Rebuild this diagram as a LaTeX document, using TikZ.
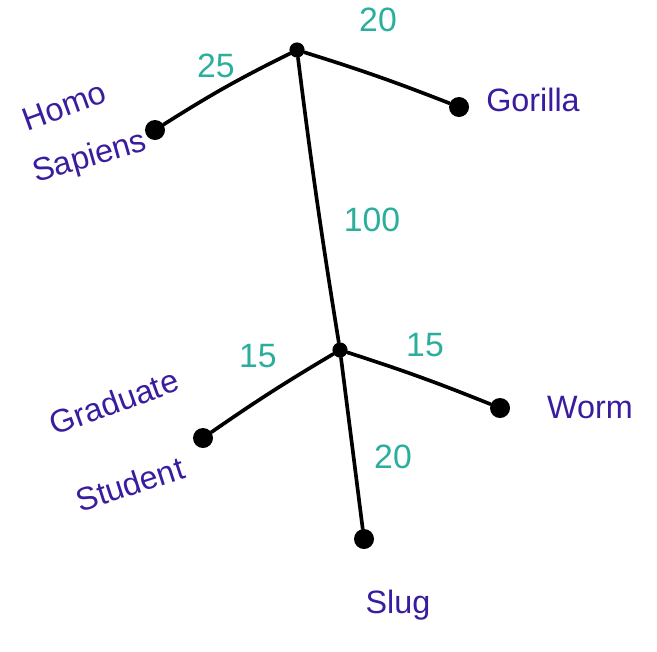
\documentclass[tikz,border=0pt]{standalone}
\usepackage{fontspec}
\setmainfont{Liberation Sans}
\usetikzlibrary{positioning}
\definecolor{ink}{HTML}{3A1C9E}
\definecolor{dist}{HTML}{2BAE9C}

\begin{document}
\begin{tikzpicture}[x=0.025cm,y=-0.025cm,
  leaf/.style={circle,fill=black,inner sep=0pt,minimum size=0.5cm},
  fork/.style={circle,fill=black,inner sep=0pt,minimum size=0.38cm},
  species/.style={text=ink,font=\fontsize{23}{25}\selectfont,inner sep=0pt},
  blen/.style={text=dist,font=\fontsize{24}{26}\selectfont,inner sep=1pt},
  branch/.style={line width=2.6pt,line cap=round}]
\useasboundingbox (0,0) rectangle (657,651);
% inner nodes
\node[fork] (top) at (297,50) {};
\node[fork] (mid) at (340,350) {};
% leaves
\node[leaf] (homo) at (155,130) {};
\node[leaf] (gor) at (459,107) {};
\node[leaf] (grad) at (203,438) {};
\node[leaf] (worm) at (500,408) {};
\node[leaf] (slug) at (364,539) {};
% species
\node[species,rotate=20] (homoA) at (64,106) {Homo};
\node[species,rotate=16] (homoB) at (90,158) {Sapiens};
\node[species] (gorT) at (533,100) {Gorilla};
\node[species,rotate=20] (gradA) at (114,402) {Graduate};
\node[species,rotate=18] (gradB) at (130,484) {Student};
\node[species] (wormT) at (590,408) {Worm};
\node[species] (slugT) at (398,605) {Slug};
% branches
\draw[branch] (top) to[bend right=3] (homo);
\draw[branch] (top) to[bend left=2] (gor);
\draw[branch] (top) to[bend right=1] (mid);
\draw[branch] (mid) to[bend right=2] (grad);
\draw[branch] (mid) to[bend left=2] (worm);
\draw[branch] (mid) -- (slug);
% lengths
\node[blen] (l1) at (216,66) {25};
\node[blen] (l2) at (378,20) {20};
\node[blen] (l3) at (372,220) {100};
\node[blen] (l4) at (258,356) {15};
\node[blen] (l5) at (425,345) {15};
\node[blen] (l6) at (393,457) {20};
\end{tikzpicture}
\end{document}
